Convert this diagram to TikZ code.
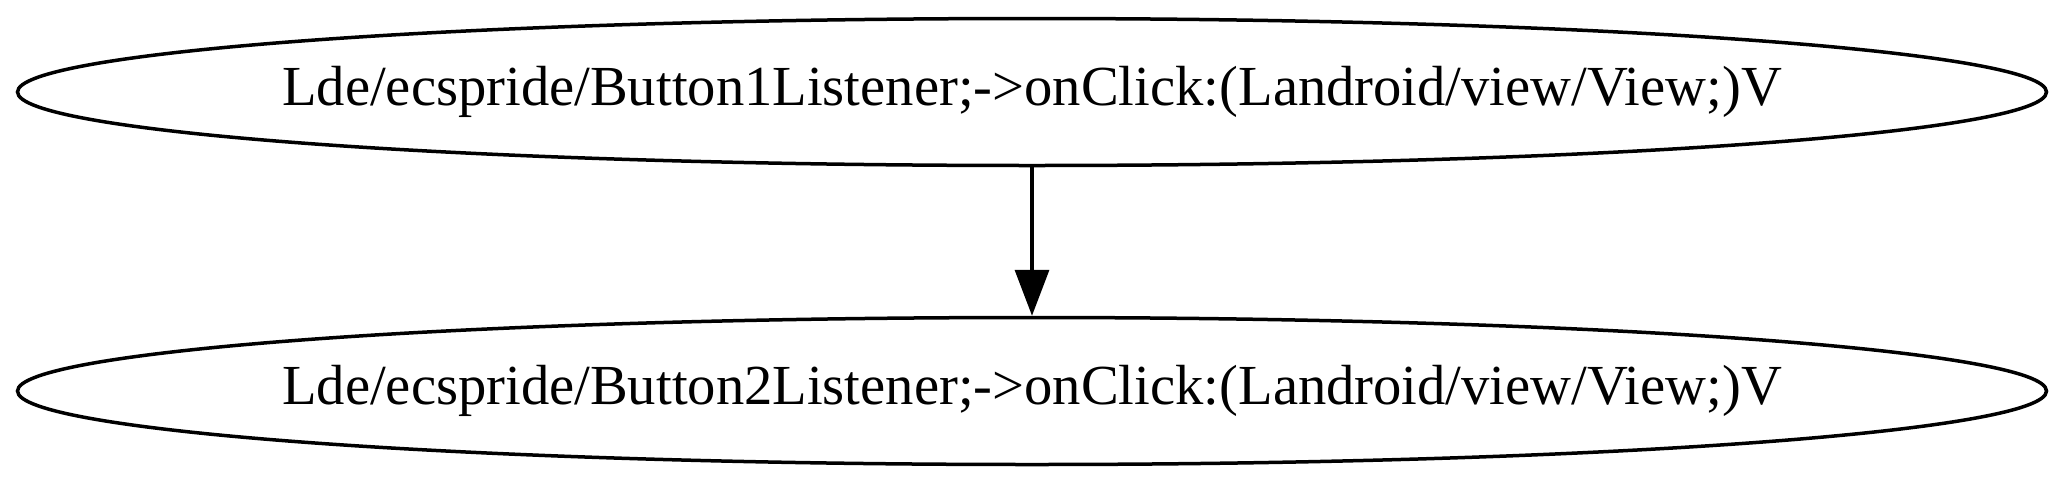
\documentclass[tikz,border=0pt]{standalone}
\usepackage{fontspec}
\setmainfont{Liberation Serif}
\usetikzlibrary{shapes.geometric,arrows.meta}
\begin{document}
\begin{tikzpicture}[x=1pt,y=-1pt,
  fn/.style={draw=black,line width=3.5pt,ellipse,minimum width=2029pt,minimum height=147pt,inner sep=0pt,
    font=\fontsize{56.6}{60}\selectfont},
  edge/.style={line width=3.5pt,-{Triangle[length=46pt,width=34pt]}}]
\useasboundingbox (0,0) rectangle (2064,483);
\node[fn] (a) at (1032,92) {\makebox[0pt]{Lde/ecspride/Button1Listener;->onClick:(Landroid/view/View;)V}};
\node[fn] (b) at (1032,391) {\makebox[0pt]{Lde/ecspride/Button2Listener;->onClick:(Landroid/view/View;)V}};
\draw[edge] (a.south) -- (b.north);
\end{tikzpicture}
\end{document}
